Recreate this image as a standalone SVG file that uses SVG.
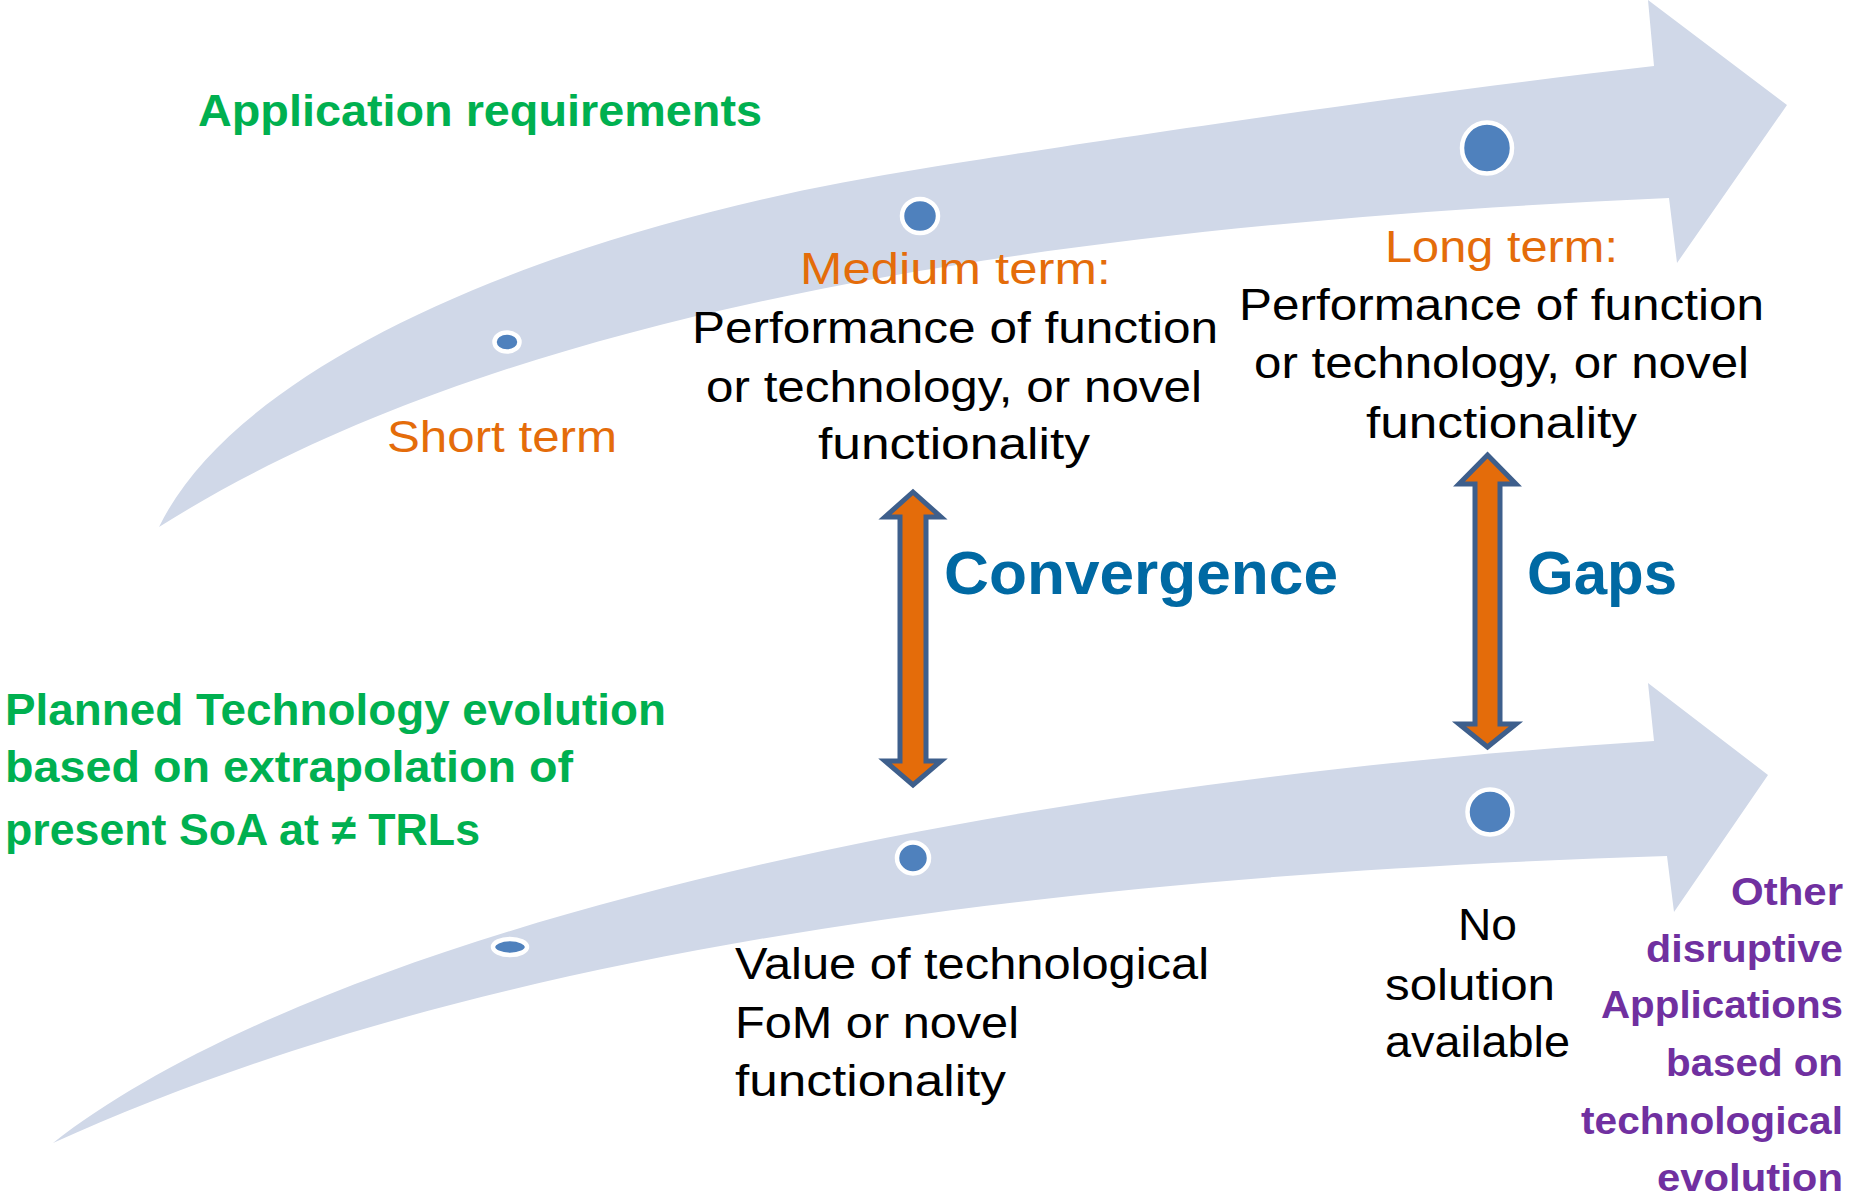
<svg xmlns="http://www.w3.org/2000/svg" width="1852" height="1200" viewBox="0 0 1852 1200">
<style>
  text { font-family: "Liberation Sans", Arial, sans-serif; }
  .band { fill: #D0D8E8; }
  .dot { fill: #4F81BD; stroke: #FFFFFF; stroke-width: 4.5; }
  .dbl { fill: #E46C0A; stroke: #3E5F8C; stroke-width: 5; stroke-linejoin: miter; }
  .blk { fill: #000000; font-size: 44px; }
  .org { fill: #E46C0A; font-size: 44px; }
  .grn { fill: #00B050; font-size: 44px; font-weight: bold; }
  .big { fill: #0069A3; font-size: 62px; font-weight: bold; }
  .pur { fill: #7030A0; font-size: 39px; font-weight: bold; text-anchor: end; }
</style>
<rect width="1852" height="1200" fill="#FFFFFF"/>

<g id="arrow-top">
  <path class="band" d="M159,527 C240,360 560,225 926,168 C1100,140 1400,95 1654,66 L1648,0 L1787,105 L1677,263 L1669,198 C890,232 440,350 159,527 Z"/>
</g>
<g id="arrow-bottom">
  <path class="band" d="M53,1143 C300,950 900,790 1654,741 L1648,683 L1768,775 L1674,912 L1667,856 C900,880 400,985 53,1143 Z"/>
</g>

<g id="dots">
  <ellipse id="dot-top-short" class="dot" cx="507" cy="342" rx="12.5" ry="9.5"/>
  <ellipse id="dot-top-medium" class="dot" cx="920" cy="216" rx="18" ry="17"/>
  <ellipse id="dot-top-long" class="dot" cx="1487" cy="148" rx="25" ry="25.5"/>
  <ellipse id="dot-bot-short" class="dot" cx="510" cy="947" rx="17" ry="8"/>
  <ellipse id="dot-bot-medium" class="dot" cx="913" cy="858" rx="16" ry="15.5"/>
  <ellipse id="dot-bot-long" class="dot" cx="1490" cy="812" rx="22.5" ry="22.5"/>
</g>

<g id="connectors">
  <polygon id="convergence-arrow" class="dbl" points="913,492 941,517 926,517 926,761 941,761 913,785 885,761 900,761 900,517 885,517"/>
  <polygon id="gaps-arrow" class="dbl" points="1487.5,455 1516,484 1500,484 1500,724 1516,724 1487.5,747 1459,724 1475,724 1475,484 1459,484"/>
</g>

<g id="label-application">
  <text class="grn" x="198" y="126" textLength="564" lengthAdjust="spacingAndGlyphs" font-size="45">Application requirements</text>
</g>

<g id="label-short">
  <text class="org" x="387" y="452" textLength="230" lengthAdjust="spacingAndGlyphs">Short term</text>
</g>

<g id="label-medium">
  <text class="org" x="800" y="284" textLength="311" lengthAdjust="spacingAndGlyphs">Medium term:</text>
  <text class="blk" x="692" y="343" textLength="526" lengthAdjust="spacingAndGlyphs">Performance of function</text>
  <text class="blk" x="706" y="402" textLength="496" lengthAdjust="spacingAndGlyphs">or technology, or novel</text>
  <text class="blk" x="818" y="459" textLength="272" lengthAdjust="spacingAndGlyphs">functionality</text>
</g>

<g id="label-long">
  <text class="org" x="1385" y="262" textLength="233" lengthAdjust="spacingAndGlyphs">Long term:</text>
  <text class="blk" x="1239" y="320" textLength="525" lengthAdjust="spacingAndGlyphs">Performance of function</text>
  <text class="blk" x="1254" y="378" textLength="495" lengthAdjust="spacingAndGlyphs">or technology, or novel</text>
  <text class="blk" x="1366" y="438" textLength="271" lengthAdjust="spacingAndGlyphs">functionality</text>
</g>

<g id="label-convergence">
  <text class="big" x="944" y="594" textLength="394" lengthAdjust="spacingAndGlyphs">Convergence</text>
</g>
<g id="label-gaps">
  <text class="big" x="1527" y="594" textLength="150" lengthAdjust="spacingAndGlyphs">Gaps</text>
</g>

<g id="label-planned">
  <text class="grn" x="5" y="725" textLength="661" lengthAdjust="spacingAndGlyphs">Planned Technology evolution</text>
  <text class="grn" x="5" y="782" textLength="568" lengthAdjust="spacingAndGlyphs">based on extrapolation of</text>
  <text class="grn" x="5" y="845" textLength="475" lengthAdjust="spacingAndGlyphs">present SoA at ≠ TRLs</text>
</g>

<g id="label-value">
  <text class="blk" x="735" y="979" textLength="474" lengthAdjust="spacingAndGlyphs">Value of technological</text>
  <text class="blk" x="735" y="1038" textLength="284" lengthAdjust="spacingAndGlyphs">FoM or novel</text>
  <text class="blk" x="735" y="1096" textLength="271" lengthAdjust="spacingAndGlyphs">functionality</text>
</g>

<g id="label-nosolution">
  <text class="blk" x="1458" y="940" textLength="59" lengthAdjust="spacingAndGlyphs">No</text>
  <text class="blk" x="1385" y="1000" textLength="170" lengthAdjust="spacingAndGlyphs">solution</text>
  <text class="blk" x="1385" y="1057" textLength="185" lengthAdjust="spacingAndGlyphs">available</text>
</g>

<g id="label-other">
  <text class="pur" x="1843" y="905" textLength="112" lengthAdjust="spacingAndGlyphs">Other</text>
  <text class="pur" x="1843" y="962" textLength="197" lengthAdjust="spacingAndGlyphs">disruptive</text>
  <text class="pur" x="1843" y="1018" textLength="242" lengthAdjust="spacingAndGlyphs">Applications</text>
  <text class="pur" x="1843" y="1076" textLength="177" lengthAdjust="spacingAndGlyphs">based on</text>
  <text class="pur" x="1843" y="1134" textLength="262" lengthAdjust="spacingAndGlyphs">technological</text>
  <text class="pur" x="1843" y="1191" textLength="186" lengthAdjust="spacingAndGlyphs">evolution</text>
</g>
</svg>
